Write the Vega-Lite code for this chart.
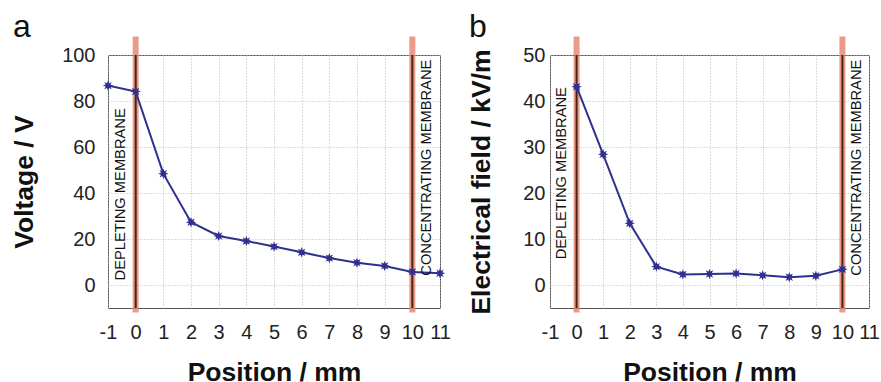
{
  "$schema": "https://vega.github.io/schema/vega-lite/v6.json",
  "padding": {"left": 10, "top": 10, "right": 0, "bottom": 0},
  "background": "white",
  "config": {
    "font": "Liberation Sans",
    "view": {"stroke": "#555555", "strokeWidth": 1},
    "axis": {
      "grid": true, "gridColor": "#bdb8b8", "gridDash": [1, 2], "gridWidth": 1,
      "ticks": false, "domain": false, "labelOverlap": false, "labelFlush": false,
      "labelFont": "Liberation Sans", "labelFontSize": 20, "labelColor": "#222222",
      "titleFont": "Liberation Sans", "titleFontSize": 26.5, "titleFontWeight": "bold", "titleColor": "#111111"
    },
    "title": {"font": "Liberation Sans", "fontSize": 32, "fontWeight": "normal", "color": "#111111", "anchor": "start", "frame": "group", "baseline": "alphabetic"}
  },
  "datasets": {
    "voltage": [
      {"position": -1, "voltage": 86.7},
      {"position": 0, "voltage": 84.1},
      {"position": 1, "voltage": 48.4},
      {"position": 2, "voltage": 27.3},
      {"position": 3, "voltage": 21.3},
      {"position": 4, "voltage": 19.1},
      {"position": 5, "voltage": 16.7},
      {"position": 6, "voltage": 14.2},
      {"position": 7, "voltage": 11.7},
      {"position": 8, "voltage": 9.7},
      {"position": 9, "voltage": 8.3},
      {"position": 10, "voltage": 5.7},
      {"position": 11, "voltage": 5.1}
    ],
    "field": [
      {"position": 0, "field": 43.1},
      {"position": 1, "field": 28.4},
      {"position": 2, "field": 13.4},
      {"position": 3, "field": 4.0},
      {"position": 4, "field": 2.3},
      {"position": 5, "field": 2.4},
      {"position": 6, "field": 2.5},
      {"position": 7, "field": 2.1},
      {"position": 8, "field": 1.7},
      {"position": 9, "field": 2.0},
      {"position": 10, "field": 3.4}
    ],
    "membranes": [
      {"position": 0, "name": "depleting"},
      {"position": 10, "name": "concentrating"}
    ],
    "single": [{}]
  },
  "bounds": "flush",
  "spacing": 110,
  "hconcat": [
    {
      "title": {"text": "a", "dx": -95, "offset": -10},
      "width": 332,
      "height": 253,
      "layer": [
        {
          "data": {"name": "membranes"},
          "mark": {"type": "rule", "color": "#e3846a", "opacity": 0.8, "strokeWidth": 6},
          "encoding": {
            "x": {"field": "position", "type": "quantitative", "scale": {"domain": [-1, 11], "nice": false},
              "axis": {"values": [-1,0,1,2,3,4,5,6,7,8,9,10,11], "tickCount": 20, "labelOverlap": false, "labelFlush": false, "labelExpr": "'' + datum.value", "title": "Position / mm", "labelPadding": 14, "titleY": 51, "titleBaseline": "top"}},
            "y": {"datum": 108, "type": "quantitative", "scale": {"domain": [-10, 100], "nice": false, "zero": false},
              "axis": {"values": [0,20,40,60,80,100], "tickCount": 20, "labelOverlap": false, "title": "Voltage / V", "labelPadding": 13, "titleX": -75.5, "titleBaseline": "alphabetic"}},
            "y2": {"datum": -12}
          }
        },
        {
          "data": {"name": "membranes"},
          "mark": {"type": "rule", "color": "#4a2216", "strokeWidth": 2},
          "encoding": {
            "x": {"field": "position", "type": "quantitative"},
            "y": {"datum": 100, "type": "quantitative"},
            "y2": {"datum": -10}
          }
        },
        {
          "data": {"name": "voltage"},
          "mark": {"type": "line", "color": "#30308f", "strokeWidth": 2},
          "encoding": {
            "x": {"field": "position", "type": "quantitative"},
            "y": {"field": "voltage", "type": "quantitative"}
          }
        },
        {
          "data": {"name": "voltage"},
          "mark": {"type": "point", "filled": true, "opacity": 1, "color": "#30308f", "size": 110,
            "shape": "M1,0L0.45,0.19L0.707,0.707L0.19,0.45L0,1L-0.19,0.45L-0.707,0.707L-0.45,0.19L-1,0L-0.45,-0.19L-0.707,-0.707L-0.19,-0.45L0,-1L0.19,-0.45L0.707,-0.707L0.45,-0.19Z"},
          "encoding": {
            "x": {"field": "position", "type": "quantitative"},
            "y": {"field": "voltage", "type": "quantitative"}
          }
        },
        {
          "data": {"name": "single"},
          "mark": {"type": "text", "text": "DEPLETING MEMBRANE", "angle": 270, "fontSize": 14.7, "font": "Liberation Sans", "color": "#111111", "align": "center", "baseline": "middle"},
          "encoding": {"x": {"datum": -0.54, "type": "quantitative"}, "y": {"datum": 39.4, "type": "quantitative"}}
        },
        {
          "data": {"name": "single"},
          "mark": {"type": "text", "text": "CONCENTRATING MEMBRANE", "angle": 270, "fontSize": 14.7, "font": "Liberation Sans", "color": "#111111", "align": "center", "baseline": "middle"},
          "encoding": {"x": {"datum": 10.52, "type": "quantitative"}, "y": {"datum": 51, "type": "quantitative"}}
        }
      ]
    },
    {
      "title": {"text": "b", "dx": -81, "offset": -10},
      "width": 319,
      "height": 253,
      "layer": [
        {
          "data": {"name": "membranes"},
          "mark": {"type": "rule", "color": "#e3846a", "opacity": 0.8, "strokeWidth": 6},
          "encoding": {
            "x": {"field": "position", "type": "quantitative", "scale": {"domain": [-1, 11], "nice": false},
              "axis": {"values": [-1,0,1,2,3,4,5,6,7,8,9,10,11], "tickCount": 20, "labelOverlap": false, "labelFlush": false, "labelExpr": "'' + datum.value", "title": "Position / mm", "labelPadding": 14, "titleY": 51, "titleBaseline": "top"}},
            "y": {"datum": 54, "type": "quantitative", "scale": {"domain": [-5, 50], "nice": false, "zero": false},
              "axis": {"values": [0,10,20,30,40,50], "tickCount": 20, "labelOverlap": false, "title": "Electrical field / kV/m", "labelPadding": 5, "titleX": -60.5, "titleBaseline": "alphabetic"}},
            "y2": {"datum": -6}
          }
        },
        {
          "data": {"name": "membranes"},
          "mark": {"type": "rule", "color": "#4a2216", "strokeWidth": 2},
          "encoding": {
            "x": {"field": "position", "type": "quantitative"},
            "y": {"datum": 50, "type": "quantitative"},
            "y2": {"datum": -5}
          }
        },
        {
          "data": {"name": "field"},
          "mark": {"type": "line", "color": "#30308f", "strokeWidth": 2},
          "encoding": {
            "x": {"field": "position", "type": "quantitative"},
            "y": {"field": "field", "type": "quantitative"}
          }
        },
        {
          "data": {"name": "field"},
          "mark": {"type": "point", "filled": true, "opacity": 1, "color": "#30308f", "size": 110,
            "shape": "M1,0L0.45,0.19L0.707,0.707L0.19,0.45L0,1L-0.19,0.45L-0.707,0.707L-0.45,0.19L-1,0L-0.45,-0.19L-0.707,-0.707L-0.19,-0.45L0,-1L0.19,-0.45L0.707,-0.707L0.45,-0.19Z"},
          "encoding": {
            "x": {"field": "position", "type": "quantitative"},
            "y": {"field": "field", "type": "quantitative"}
          }
        },
        {
          "data": {"name": "single"},
          "mark": {"type": "text", "text": "DEPLETING MEMBRANE", "angle": 270, "fontSize": 14.7, "font": "Liberation Sans", "color": "#111111", "align": "center", "baseline": "middle"},
          "encoding": {"x": {"datum": -0.54, "type": "quantitative"}, "y": {"datum": 24.3, "type": "quantitative"}}
        },
        {
          "data": {"name": "single"},
          "mark": {"type": "text", "text": "CONCENTRATING MEMBRANE", "angle": 270, "fontSize": 14.7, "font": "Liberation Sans", "color": "#111111", "align": "center", "baseline": "middle"},
          "encoding": {"x": {"datum": 10.54, "type": "quantitative"}, "y": {"datum": 25.5, "type": "quantitative"}}
        }
      ]
    }
  ]
}
